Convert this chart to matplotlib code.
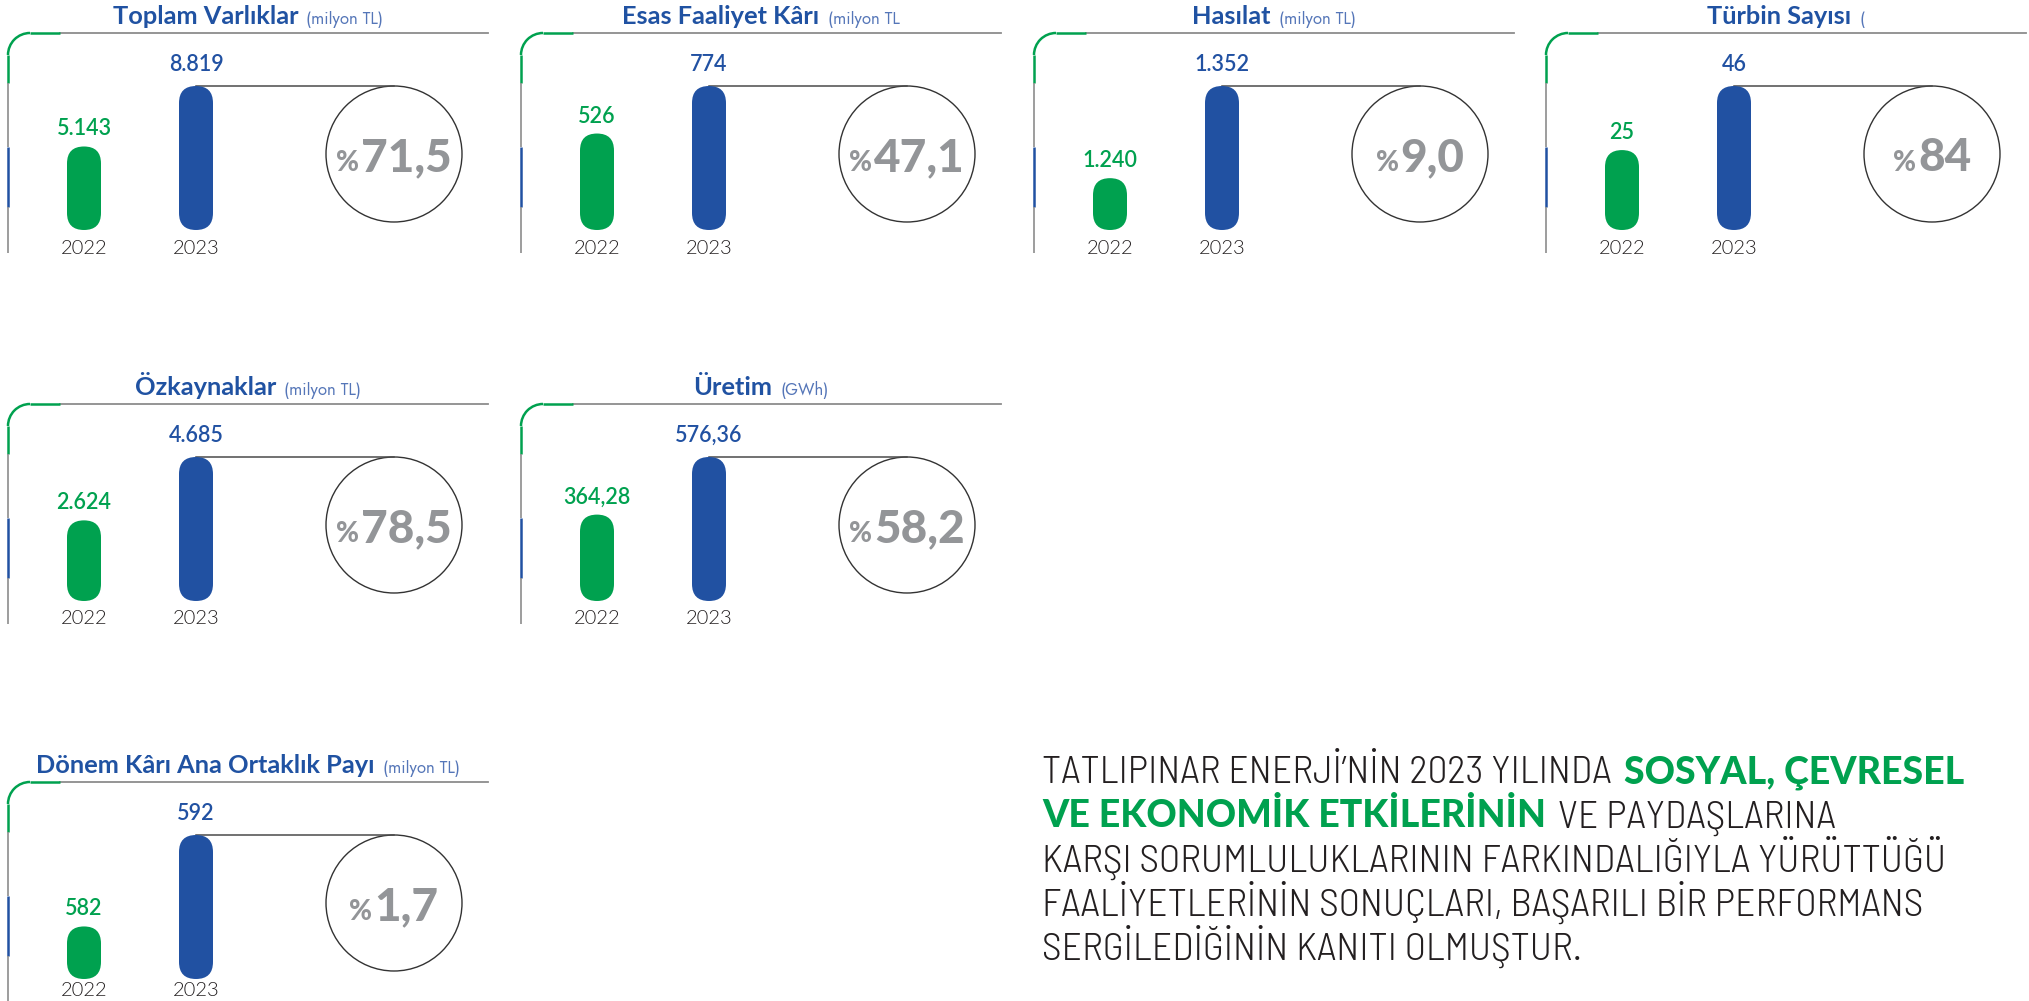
import matplotlib
matplotlib.use("Agg")
import matplotlib.pyplot as plt
from matplotlib.patches import FancyBboxPatch, Ellipse, Arc

W, H = 2029, 1001

titles = ["Toplam Varlıklar", "Esas Faaliyet Kârı", "Hasılat", "Türbin Sayısı",
          "Özkaynaklar", "Üretim", "Dönem Kârı Ana Ortaklık Payı"]
units = ["(milyon TL)", "(milyon TL", "(milyon TL)", "(",
         "(milyon TL)", "(GWh)", "(milyon TL)"]
years = ["2022", "2023"]
labels_2022 = ["5.143", "526", "1.240", "25", "2.624", "364,28", "582"]
labels_2023 = ["8.819", "774", "1.352", "46", "4.685", "576,36", "592"]
change = ["71,5", "47,1", "9,0", "84", "78,5", "58,2", "1,7"]
# bar heights as drawn in the picture (2023 bar = 1)
height_2022 = [0.58, 0.67, 0.36, 0.555, 0.56, 0.60, 0.365]
height_2023 = [1, 1, 1, 1, 1, 1, 1]

body = [
    [("TATLIPINAR ENERJİ’NİN 2023 YILINDA", False), ("SOSYAL, ÇEVRESEL", True)],
    [("VE EKONOMİK ETKİLERİNİN", True), ("VE PAYDAŞLARINA", False)],
    [("KARŞI SORUMLULUKLARININ FARKINDALIĞIYLA YÜRÜTTÜĞÜ", False)],
    [("FAALİYETLERİNİN SONUÇLARI, BAŞARILI BİR PERFORMANS", False)],
    [("SERGİLEDİĞİNİN KANITI OLMUŞTUR.", False)],
]

GREEN = "#00a14f"
BLUE = "#2151a2"
TBLUE = "#2052a2"
UBLUE = "#5576b8"
PGRAY = "#939598"
LGRAY = "#8c8c8c"
DARK = "#231f20"

# panel layout (pixels from top-left)
col_x = [8, 521, 1034, 1546]
row_top = [33, 404, 782]
cells = [(0, 0), (0, 1), (0, 2), (0, 3), (1, 0), (1, 1), (2, 0)]
year_drop = [24, 23, 17]

PW = 480           # panel width
SX, SY = 112, 144  # px per x unit, px per y unit in bar axes
X0 = 76            # first bar centre from panel left
BAR_W = 34
CIRC_X, CIRC_R = 386, 68

fig = plt.figure(figsize=(W / 100, H / 100), dpi=100)
bg = fig.add_axes([0, 0, 1, 1])
bg.set_xlim(0, W)
bg.set_ylim(H, 0)
bg.axis("off")

pending = []

for i, (r, c) in enumerate(cells):
    left, top = col_x[c], row_top[r]
    bottom_line = min(top + 220, H)

    # frame: top rule, green corner, left rule
    bg.plot([left + 52, left + PW], [top, top], color=LGRAY, lw=1.3)
    bg.plot([left + 22, left + 52], [top, top], color=GREEN, lw=1.8, solid_capstyle="butt")
    bg.add_patch(Arc((left + 22, top + 22), 44, 44, theta1=180, theta2=270, color=GREEN, lw=1.8))
    bg.plot([left, left], [top + 22, top + 50], color=GREEN, lw=1.8, solid_capstyle="butt")
    bg.plot([left, left], [top + 50, top + 114], color=LGRAY, lw=1.2, solid_capstyle="butt")
    bg.plot([left, left], [top + 114, top + 174], color=BLUE, lw=1.8, solid_capstyle="butt")
    bg.plot([left, left], [top + 174, bottom_line], color=LGRAY, lw=1.2, solid_capstyle="butt")

    # title
    t1 = bg.text(0, top - 9, titles[i], color=TBLUE, fontsize=18.3, fontweight="bold",
                 family=["Lato", "DejaVu Sans"], ha="left", va="baseline")
    t2 = bg.text(0, top - 9, units[i], color=UBLUE, fontsize=12, family=["Jost", "DejaVu Sans"],
                 ha="left", va="baseline")
    pending.append(("title", (t1, t2), left + PW / 2))

    # bars
    ax = fig.add_axes([left / W, 1 - (top + 197) / H, PW / W, SY / H])
    ax.set_xlim(-X0 / SX, (PW - X0) / SX)
    ax.set_ylim(0, 1)
    ax.axis("off")
    hs = [height_2022[i], height_2023[i]]
    bars = ax.bar([0, 1], hs, width=BAR_W / SX, color=[GREEN, BLUE])
    for b in bars:
        ax.add_patch(FancyBboxPatch((b.get_x(), 0), b.get_width(), b.get_height(),
                                    boxstyle=f"round,pad=0,rounding_size={b.get_width() / 2}",
                                    mutation_aspect=SX / SY, fc=b.get_facecolor(), ec="none",
                                    clip_on=False, zorder=3))
        b.set_visible(False)

    ax.annotate(labels_2022[i], (0, hs[0]), xytext=(0, 11), textcoords="offset pixels",
                ha="center", va="baseline", color=GREEN, fontsize=15.5, fontweight=600,
                family=["Lato", "DejaVu Sans"], annotation_clip=False)
    ax.annotate(labels_2023[i], (1, hs[1]), xytext=(0, 15), textcoords="offset pixels",
                ha="center", va="baseline", color=BLUE, fontsize=15.5, fontweight=600,
                family=["Lato", "DejaVu Sans"], annotation_clip=False)
    for k, yr in enumerate(years):
        ax.annotate(yr, (k, 0), xytext=(0, -year_drop[r]), textcoords="offset pixels",
                    ha="center", va="baseline", color=DARK, fontsize=14.5, fontweight=300,
                    family=["Lato", "DejaVu Sans"], annotation_clip=False)

    # circle with change
    cx = (CIRC_X - X0) / SX
    cy = 1 - CIRC_R / SY
    ax.plot([1, cx], [1, 1], color="#4a4a4a", lw=1.1, clip_on=False, zorder=2)
    ax.add_patch(Ellipse((cx, cy), 2 * CIRC_R / SX, 2 * CIRC_R / SY, fill=False,
                         ec="#333333", lw=1.0, clip_on=False))
    tp = ax.annotate("%", (cx, cy), xytext=(0, -17), textcoords="offset pixels",
                     ha="left", va="baseline", color=PGRAY, fontsize=20, fontweight=900,
                     family=["Lato", "DejaVu Sans"], annotation_clip=False)
    tn = ax.annotate(change[i], (cx, cy), xytext=(0, -17), textcoords="offset pixels",
                     ha="left", va="baseline", color=PGRAY, fontsize=33, fontweight=900,
                     family=["Lato", "DejaVu Sans"], annotation_clip=False)
    pending.append(("pct", (tp, tn), None))

# body text
body_lines = []
for k, segs in enumerate(body):
    y = 783 + 44.3 * k
    arts = []
    for s, bold in segs:
        if bold:
            t = bg.text(0, y, s, color=GREEN, fontsize=27, fontweight=900,
                        family=["Lato", "DejaVu Sans"], ha="left", va="baseline")
        else:
            t = bg.text(0, y, s, color=DARK, fontsize=28.4, fontweight=300,
                        family=["Barlow Semi Condensed", "DejaVu Sans"], ha="left", va="baseline")
        arts.append(t)
    body_lines.append(arts)

renderer = fig.canvas.get_renderer()
for kind, arts, anchor in pending:
    if kind == "title":
        t1, t2 = arts
        w1 = t1.get_window_extent(renderer).width
        w2 = t2.get_window_extent(renderer).width
        gap = 8
        x = anchor - (w1 + gap + w2) / 2
        t1.set_x(x)
        t2.set_x(x + w1 + gap)
    else:
        tp, tn = arts
        w1 = tp.get_window_extent(renderer).width
        w2 = tn.get_window_extent(renderer).width
        gap = 2
        x = -(w1 + gap + w2) / 2
        tp.xyann = (x, -17)
        tn.xyann = (x + w1 + gap, -17)

for arts in body_lines:
    x = 1042
    for t in arts:
        t.set_x(x)
        x += t.get_window_extent(renderer).width + 12

fig.savefig("out.png", dpi=100)
